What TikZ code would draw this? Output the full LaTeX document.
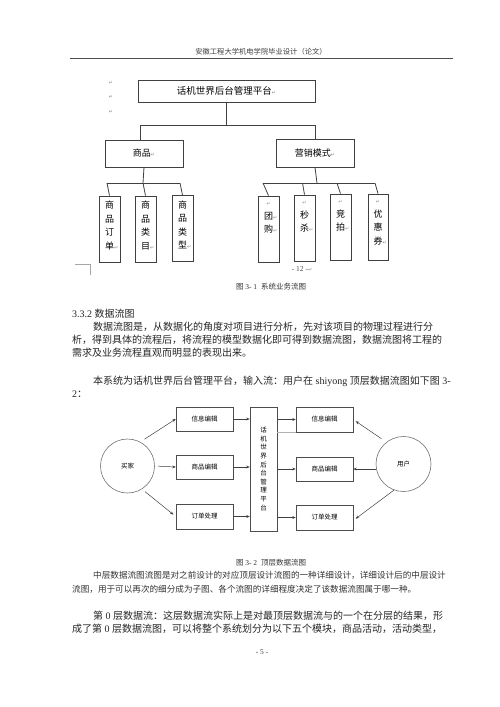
\documentclass[tikz,border=0pt]{standalone}
\usepackage{fontspec}
\setmainfont{Noto Sans CJK SC}
\newfontfamily\latf{Liberation Serif}
\newfontfamily\symf{DejaVu Sans}
\usetikzlibrary{arrows.meta}
\newcommand\retm{{\symf\color{black!45}\fontsize{5}{5}\selectfont ↵}}
\begin{document}
\begin{tikzpicture}[x=1pt,y=-1pt,
  tline/.style={draw=black!75, line width=0.8pt},
  tbox/.style={draw=black!75, line width=0.8pt, inner sep=0pt},
  vbox/.style={draw=black!75, line width=0.8pt, inner sep=0pt, minimum width=21pt, minimum height=66pt},
  vlab/.style={align=center, inner sep=0pt, anchor=north, font=\fontsize{9}{13.4}\selectfont},
  dbox/.style={draw=black!70, line width=0.5pt, inner sep=0pt, minimum width=57pt, minimum height=24pt, font=\fontsize{6.5}{8}\selectfont},
  dcirc/.style={circle, draw=black!55, line width=0.6pt, inner sep=0pt, font=\fontsize{6.5}{8}\selectfont},
  arr/.style={draw=black!75, line width=0.5pt, -{Stealth[length=3.5pt,width=2.8pt]}},
  txt/.style={anchor=west, inner sep=0pt, text=black!85, font=\fontsize{10}{12}\selectfont},
  stxt/.style={anchor=west, inner sep=0pt, text=black!80, font=\fontsize{8.6}{10}\selectfont},
  figcap/.style={inner sep=0pt, text=black!80, font=\fontsize{7.5}{9}\selectfont}
]
\useasboundingbox[fill=white] (0,0) rectangle (500,707);

% header
\node[inner sep=0pt, text=black!75, font=\fontsize{7.3}{9}\selectfont] (hdr) at (261,52) {安徽工程大学机电学院毕业设计（论文）};
\coordinate (hl) at (70,58);
\coordinate (hr) at (453,58);
\draw[black!70, line width=0.7pt] (hl) -- (hr);

% ---- figure 3-1 ----
\node[inner sep=0pt] (m1) at (111,83) {\retm};
\node[inner sep=0pt] (m2) at (111,97) {\retm};
\node[inner sep=0pt] (m3) at (111,112) {\retm};

\node[tbox, minimum width=177pt, minimum height=22pt, font=\fontsize{9.5}{11}\selectfont] (root) at (226.5,91) {话机世界后台管理平台\retm};
\node[tbox, minimum width=78pt, minimum height=27pt, font=\fontsize{9}{11}\selectfont] (goods) at (144,153.5) {商品\retm};
\node[tbox, minimum width=78pt, minimum height=28pt, font=\fontsize{9}{11}\selectfont] (mkt) at (315,153) {营销模式\retm};

\coordinate (j0) at (226.5,125);
\coordinate (jl) at (140,125);
\coordinate (jr) at (315,125);
\draw[tline] (root.south) -- (j0);
\draw[tline] (jl) -- (jr);
\draw[tline] (jl) -- (jl |- goods.north);
\draw[tline] (jr) -- (mkt.north);

% goods children
\node[vbox] (b1) at (109.5,229) {};
\node[vbox] (b2) at (145.5,229) {};
\node[vbox] (b3) at (182.5,228.5) {};
\node[vlab] (b1t) at ([yshift=-5.5pt]b1.north) {商\\品\\订\\单\rlap{\retm}};
\node[vlab] (b2t) at ([yshift=-5.5pt]b2.north) {商\\品\\类\\目\rlap{\retm}};
\node[vlab] (b3t) at ([yshift=-5.5pt]b3.north) {商\\品\\类\\型\rlap{\retm}};
\coordinate (g1) at (107,183);
\coordinate (g2) at (143,183);
\coordinate (g3) at (180,183);
\draw[tline] (goods.south) -- (g2);
\draw[tline] (g1) -- (g3);
\draw[tline] (g1) -- (b1.north);
\draw[tline] (g2) -- (b2.north);
\draw[tline] (g3) -- (b3.north);

% marketing children
\node[vbox] (r1) at (268.5,229) {};
\node[vbox] (r2) at (304.5,228) {};
\node[vbox] (r3) at (340.5,227) {};
\node[vbox, minimum width=20pt] (r4) at (378,227) {};
\node[vlab] (r1t) at ([yshift=-7pt]r1.north) {\retm\\团\rlap{\retm}\\购\rlap{\retm}};
\node[vlab] (r2t) at ([yshift=-7pt]r2.north) {\retm\\秒\\杀\rlap{\retm}};
\node[vlab] (r3t) at ([yshift=-7pt]r3.north) {\retm\\竞\\拍\rlap{\retm}};
\node[vlab] (r4t) at ([yshift=-7pt]r4.north) {\retm\\优\\惠\\券\rlap{\retm}};
\coordinate (k1) at (263,183);
\coordinate (k2) at (302.5,183);
\coordinate (k3) at (337,183);
\coordinate (k4) at (375,183);
\coordinate (km) at (317,183);
\draw[tline] (mkt.south) -- (km);
\draw[tline] (k1) -- (k4);
\draw[tline] (k1) -- (r1.north);
\draw[tline] (k2) -- (r2.north);
\draw[tline] (k3) -- (r3.north);
\draw[tline] (k4) -- (r4.north);

\node[inner sep=0pt, text=black!70, font=\latf\fontsize{7.5}{9}\selectfont] (pg12) at (302,269) {- 12 -\retm};
\coordinate (cm1) at (75,264);
\coordinate (cm2) at (90,264);
\coordinate (cm3) at (90,275);
\draw[black!35, line width=0.6pt] (cm1) -- (cm2) -- (cm3);

\node[figcap] (cap1) at (271,287) {图{\latf\ 3-\ 1\ \ }系统业务流图};

% ---- text ----
\node[txt] (h332) at (72,314) {{\latf 3.3.2\ }数据流图};
\node[txt] (p1a) at (93,327) {数据流图是，从数据化的角度对项目进行分析，先对该项目的物理过程进行分};
\node[txt] (p1b) at (72,340) {析，得到具体的流程后，将流程的模型数据化即可得到数据流图，数据流图将工程的};
\node[txt] (p1c) at (72,353) {需求及业务流程直观而明显的表现出来。};
\node[txt] (p2a) at (93,381) {本系统为话机世界后台管理平台，输入流：用户在{\latf\ shiyong\ }顶层数据流图如下图{\latf\ 3-}};
\node[txt] (p2b) at (72,394) {{\latf 2}：};

% ---- figure 3-2 ----
\node[dcirc, minimum size=54pt] (buyer) at (127.5,466) {买家};
\node[dcirc, minimum size=55pt] (user) at (403.5,464) {用户};

\node[dbox] (L1) at (204.5,419) {信息编辑};
\node[dbox] (L2) at (204.5,467) {商品编辑};
\node[dbox, minimum height=25pt] (L3) at (204.5,516.5) {订单处理};

\node[draw=black!70, line width=0.5pt, inner sep=0pt, minimum width=27pt, minimum height=124pt, align=center, font=\fontsize{6.5}{8.6}\selectfont] (C) at (263.5,469) {话\\机\\世\\界\\后\\台\\管\\理\\平\\台};

\node[dbox, minimum height=25pt] (R1) at (324.5,419.5) {信息编辑};
\node[dbox] (R2) at (324.5,469) {商品编辑};
\node[dbox, minimum height=25pt] (R3) at (324.5,517.5) {订单处理};

\draw[arr, shorten <=5pt] (buyer.62) -- (L1.west);
\draw[arr, shorten <=3pt] (buyer.east) -- (L2.west);
\draw[arr, shorten <=4pt, shorten >=3pt] (buyer.-58) -- (L3.west);
\draw[arr] (L1.east) -- (L1.east -| C.west);
\draw[arr] (L2.east) -- (L2.east -| C.west);
\draw[arr] (L3.east) -- (L3.east -| C.west);
\draw[arr] (C.east |- R1.west) -- (R1.west);
\draw[arr] (C.east |- R2.west) -- (R2.west);
\draw[arr] (C.east |- R3.west) -- (R3.west);
\draw[black!30, line width=0.4pt] (C.east |- R1.south) -- (R1.south west);
\draw[arr, shorten <=6pt, shorten >=3pt] (user.128) -- (R1.east);
\draw[arr] (user.west |- R2.east) -- (R2.east);
\draw[arr, shorten >=3pt] (user.250) -- ([yshift=-3pt]R3.east);

\node[figcap] (cap2) at (271,563) {图{\latf\ 3-\ 2\ \ }顶层数据流图};

\node[stxt] (p3a) at (93,575) {中层数据流图流图是对之前设计的对应顶层设计流图的一种详细设计，详细设计后的中层设计};
\node[stxt] (p3b) at (72,589) {流图，用于可以再次的细分成为子图、各个流图的详细程度决定了该数据流图属于哪一种。};

\node[txt] (p4a) at (93,616) {第{\latf\ 0\ }层数据流：这层数据流实际上是对最顶层数据流与的一个在分层的结果，形};
\node[txt] (p4b) at (72,629) {成了第{\latf\ 0\ }层数据流图，可以将整个系统划分为以下五个模块，商品活动，活动类型，};

\node[inner sep=0pt, text=black!75, font=\latf\fontsize{7.5}{9}\selectfont] (pg5) at (262,652) {- 5 -};
\end{tikzpicture}
\end{document}
